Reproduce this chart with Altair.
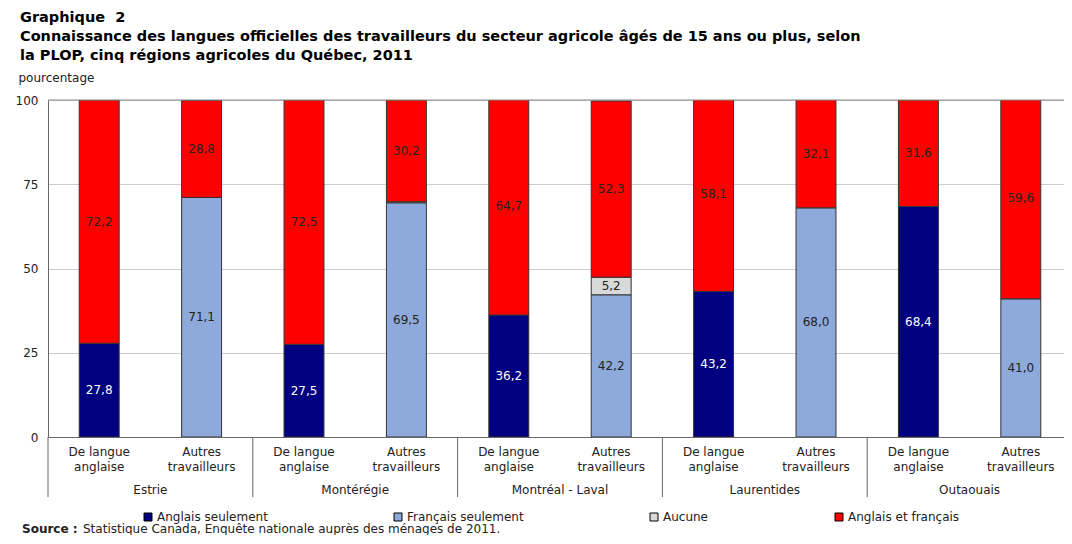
import altair as alt
import pandas as pd

# ---- data ----
regions = ["Estrie", "Montérégie", "Montréal - Laval", "Laurentides", "Outaouais"]
groups = ["De langue anglaise", "Autres travailleurs"]
series = ["Anglais seulement", "Français seulement", "Aucune", "Anglais et français"]
colors = ["#000080", "#8EA9DB", "#D9D9D9", "#FF0000"]
text_colors = ["#FFFFFF", "#222222", "#222222", "#222222"]

# one value per bar: Estrie DLA, Estrie Autres, Montérégie DLA, ...
anglais_seulement = [27.8, 0.0, 27.5, 0.0, 36.2, 0.0, 43.2, 0.0, 68.4, 0.0]
francais_seulement = [0.0, 71.1, 0.0, 69.5, 0.0, 42.2, 0.0, 68.0, 0.0, 41.0]
aucune = [0.0, 0.0, 0.0, 0.3, 0.0, 5.2, 0.0, 0.0, 0.0, 0.0]
anglais_et_francais = [72.2, 28.8, 72.5, 30.2, 64.7, 52.3, 58.1, 32.1, 31.6, 59.6]

y_ticks = [0, 25, 50, 75, 100]

# ---- table ----
keys = [f"{r}|{g}" for r in regions for g in groups]
all_vals = [anglais_seulement, francais_seulement, aucune, anglais_et_francais]
rows = []
for si, (s, vals) in enumerate(zip(series, all_vals)):
    for k, v in zip(keys, vals):
        if v > 0:
            rows.append({
                "key": k, "series": s, "order": si, "value": v,
                "label": f"{v:.1f}".replace(".", ","),
                "tc": text_colors[si],
            })
df = pd.DataFrame(rows)
reg_df = pd.DataFrame({"key": [f"{r}|{groups[0]}" for r in regions], "region": regions})

W, H = 1016, 337          # visible plot area (page is cut at the right like the reference)
FULL_W = 1024             # full width of the category band range
STEP = FULL_W / len(keys)
FONT = "DejaVu Sans"

xscale = alt.Scale(domain=keys, range=[0, FULL_W], paddingInner=0.61, paddingOuter=0.305)
yscale = alt.Scale(domain=[0, 100])

x_axis = alt.Axis(
    title=None, ticks=False, domain=True, domainColor="#666666",
    labelAngle=0, labelFont=FONT, labelFontSize=12, labelColor="#222222",
    labelPadding=9, labelBaseline="top", labelLineHeight=15, labelFlush=False,
    labelOverlap=False,
    labelExpr="indexof(datum.label, 'De langue') >= 0 ? ['De langue', 'anglaise'] : ['Autres', 'travailleurs']",
)
y_axis = alt.Axis(
    values=y_ticks, ticks=False, domain=True, domainColor="#666666",
    grid=True, gridColor="#CCCCCC", labelFont=FONT, labelFontSize=12,
    labelColor="#222222", labelPadding=10,
    title="pourcentage", titleAngle=0, titleAlign="left", titleX=-30, titleY=-19,
    titleFont=FONT, titleFontSize=12, titleFontWeight="normal", titleColor="#222222",
    titleBaseline="alphabetic",
)

base = alt.Chart(df).transform_stack(
    stack="value", groupby=["key"], as_=["y0", "y1"],
    sort=[alt.SortField("order", order="ascending")],
).transform_calculate(mid="(datum.y0 + datum.y1) / 2")

bars = base.mark_bar(clip=True, stroke="#333333", strokeWidth=1).encode(
    x=alt.X("key:N", scale=xscale, axis=x_axis, sort=keys),
    y=alt.Y("y0:Q", scale=yscale, axis=y_axis),
    y2="y1:Q",
    color=alt.Color(
        "series:N",
        scale=alt.Scale(domain=series, range=colors),
        legend=alt.Legend(
            title=None, orient="none", legendX=94, legendY=411, direction="horizontal",
            symbolType="square", symbolSize=64, symbolStrokeColor="#000000",
            symbolStrokeWidth=1, labelFont=FONT, labelFontSize=12, labelColor="#222222",
            columnPadding=124, labelOffset=3,
        ),
    ),
)

labels = base.transform_filter("datum.value >= 1").mark_text(
    font=FONT, fontSize=12, baseline="middle", align="center"
).encode(
    x=alt.X("key:N", scale=xscale, sort=keys),
    y=alt.Y("mid:Q", scale=yscale),
    text="label:N",
    color=alt.Color("tc:N", scale=None),
)

top_line = alt.Chart(pd.DataFrame({"v": [y_ticks[-1]]})).mark_rule(color="#888888").encode(
    y=alt.Y("v:Q", scale=yscale)
)

separators = alt.Chart(reg_df).mark_rule(color="#666666", xOffset=-STEP / 2).encode(
    x=alt.X("key:N", scale=xscale, sort=keys),
    y=alt.value(H), y2=alt.value(H + 60),
)

region_text = alt.Chart(reg_df).mark_text(
    font=FONT, fontSize=12, color="#222222", xOffset=STEP / 2, baseline="middle"
).encode(
    x=alt.X("key:N", scale=xscale, sort=keys),
    y=alt.value(H + 53),
    text="region:N",
)

src_bold = alt.Chart(pd.DataFrame({"t": ["Source :"]})).mark_text(
    font=FONT, fontSize=12, fontWeight="bold", color="#222222", align="left", baseline="alphabetic"
).encode(x=alt.value(-26), y=alt.value(H + 96), text="t:N")
src_text = alt.Chart(pd.DataFrame({"t": ["Statistique Canada, Enquête nationale auprès des ménages de 2011."]})).mark_text(
    font=FONT, fontSize=12, color="#222222", align="left", baseline="alphabetic"
).encode(x=alt.value(35), y=alt.value(H + 96), text="t:N")

chart = alt.layer(
    bars, top_line, labels, separators, region_text, src_bold, src_text
).resolve_scale(color="independent").properties(
    width=W, height=H,
    autosize=alt.AutoSizeParams(type="none"),
    padding={"left": 40, "top": 92, "right": 0, "bottom": 98},
    title=alt.TitleParams(
        text=["Graphique\u00a0 2",
              "Connaissance des langues officielles des travailleurs du secteur agricole âgés de 15 ans ou plus, selon",
              "la PLOP, cinq régions agricoles du Québec, 2011"],
        anchor="start", frame="group", font=FONT, fontSize=14.5, fontWeight="bold",
        color="#000000", lineHeight=19, dx=-28, offset=8,
    ),
).configure_view(stroke=None)

chart.save("out.html", embed_options={"renderer": "svg", "actions": False})
